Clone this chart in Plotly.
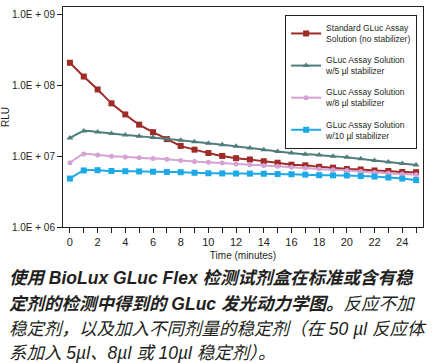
import plotly.graph_objects as go

time_min = list(range(0, 26))

standard = [2.1e8, 1.34e8, 8.8e7, 5.6e7, 3.9e7, 2.8e7, 2.19e7, 1.75e7, 1.40e7, 1.24e7,
            1.11e7, 1.01e7, 9.4e6, 9.0e6, 8.5e6, 8.1e6, 7.6e6, 7.45e6, 7.1e6, 6.9e6,
            6.6e6, 6.5e6, 6.3e6, 6.2e6, 6.0e6, 5.96e6]
stab5 = [1.81e7, 2.28e7, 2.2e7, 2.09e7, 2.0e7, 1.92e7, 1.84e7, 1.76e7, 1.68e7, 1.6e7,
         1.53e7, 1.45e7, 1.38e7, 1.31e7, 1.24e7, 1.17e7, 1.11e7, 1.07e7, 1.04e7, 1.0e7,
         9.7e6, 9.2e6, 8.7e6, 8.3e6, 7.9e6, 7.5e6]
stab8 = [8.1e6, 1.08e7, 1.04e7, 1.0e7, 9.8e6, 9.5e6, 9.3e6, 9.1e6, 8.7e6, 8.4e6,
         8.2e6, 8.0e6, 7.8e6, 7.6e6, 7.4e6, 7.2e6, 7.0e6, 6.8e6, 6.6e6, 6.45e6,
         6.3e6, 6.1e6, 5.9e6, 5.75e6, 5.6e6, 5.5e6]
stab10 = [4.84e6, 6.3e6, 6.35e6, 6.2e6, 6.15e6, 6.1e6, 6.05e6, 6.0e6, 5.95e6, 5.85e6,
          5.75e6, 5.72e6, 5.7e6, 5.68e6, 5.66e6, 5.6e6, 5.57e6, 5.5e6, 5.4e6, 5.37e6,
          5.35e6, 5.25e6, 5.17e6, 5.0e6, 4.84e6, 4.6e6]

series_names = ["Standard GLuc Assay<br>Solution (no stabilizer)",
                "GLuc Assay Solution<br>w/5 µl stabilizer",
                "GLuc Assay Solution<br>w/8 µl stabilizer",
                "GLuc Assay Solution<br>w/10 µl stabilizer"]
series_values = [standard, stab5, stab8, stab10]
colors = ["#9E2B27", "#517D79", "#D6A2D3", "#1CA9E6"]
symbols = ["square", "triangle-up", "circle", "square"]
msizes = [6, 6, 5, 6]

y_tickvals = [1e6, 1e7, 1e8, 1e9]
y_ticktext = ["1.0E + 06", "1.0E + 07", "1.0E + 08", "1.0E + 09"]
x_tickvals = time_min
x_ticktext = [str(t) if t % 2 == 0 else "" for t in time_min]

caption_lines = [
    "<b><i>使用 BioLux GLuc Flex 检测试剂盒在标准或含有稳</i></b>",
    "<b><i>定剂的检测中得到的 GLuc 发光动力学图。</i></b><i>反应不加</i>",
    "<i>稳定剂，以及加入不同剂量的稳定剂（在 50 µl 反应体</i>",
    "<i>系加入 5µl、8µl 或 10µl 稳定剂）。</i>",
]

fig = go.Figure()
for i, (name, vals, c, s, ms) in enumerate(zip(series_names, series_values, colors, symbols, msizes)):
    fig.add_trace(go.Scatter(
        x=time_min, y=vals, name=name, mode="lines+markers", legendgroup=f"g{i}",
        line=dict(color=c, width=2, shape="spline", smoothing=0.5),
        marker=dict(color=c, symbol=s, size=ms),
    ))

font_main = "Liberation Sans, Arial, sans-serif"

fig.update_layout(
    width=438, height=363,
    margin=dict(l=63, r=15, t=7, b=136, autoexpand=False),
    paper_bgcolor="white", plot_bgcolor="white",
    font=dict(family=font_main, size=10, color="#231F20"),
    showlegend=True,
    legend=dict(
        x=0.617, y=0.964, xanchor="left", yanchor="top",
        bgcolor="white", bordercolor="#231F20", borderwidth=1,
        font=dict(size=8.5, color="#231F20"),
        itemwidth=30, tracegroupgap=7,
    ),
    xaxis=dict(
        range=[-0.5, 25.5], tickmode="array", tickvals=x_tickvals, ticktext=x_ticktext,
        ticks="outside", ticklen=5, tickcolor="#231F20", showline=True, linecolor="#231F20",
        linewidth=1, mirror=True, showgrid=False, zeroline=False, automargin=False,
        title=dict(text="Time (minutes)", font=dict(size=10), standoff=4),
        tickfont=dict(size=11),
    ),
    yaxis=dict(
        type="log", range=[6, 9.11], tickmode="array", tickvals=y_tickvals, ticktext=y_ticktext,
        ticks="outside", ticklen=5, tickcolor="#231F20", showline=True, linecolor="#231F20",
        linewidth=1, mirror=True, showgrid=False, zeroline=False, automargin=False,
        title=dict(text="RLU", font=dict(size=10), standoff=14),
        tickfont=dict(size=10),
    ),
)

line_px = [278, 304, 329, 353]
for txt, py in zip(caption_lines, line_px):
    fig.add_annotation(
        text=txt, xref="paper", yref="paper",
        x=-56 / 360, y=(227 - py) / 220, xanchor="left", yanchor="middle",
        showarrow=False, align="left",
        font=dict(family="Liberation Sans, Noto Sans CJK SC, sans-serif", size=17.5, color="#231F20"),
    )

fig.write_html("out.html", config={"displayModeBar": False},
               post_script="document.body.style.margin='0';document.body.style.padding='0';")
